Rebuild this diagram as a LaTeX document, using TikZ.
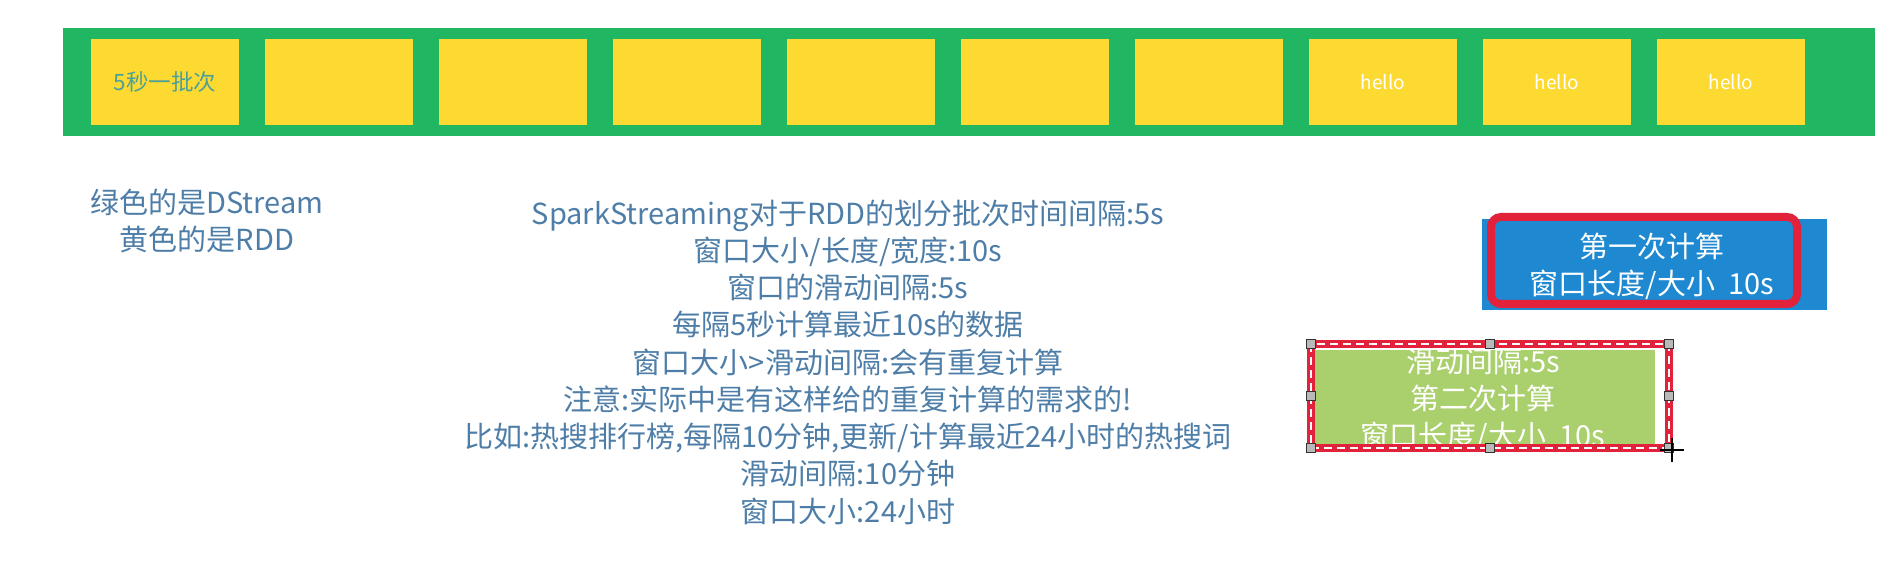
\documentclass[tikz,border=0pt]{standalone}
\usepackage{fontspec}
\setmainfont{Noto Sans CJK SC}
\usepackage{xcolor}
\usepackage{tikz}
\usetikzlibrary{positioning}
\definecolor{dsgreen}{RGB}{32,182,98}
\definecolor{rddyellow}{RGB}{252,218,50}
\definecolor{notetxt}{RGB}{78,126,168}
\definecolor{batchtxt}{RGB}{78,160,150}
\definecolor{winblue}{RGB}{30,136,208}
\definecolor{winred}{RGB}{226,34,58}
\definecolor{wingreen}{RGB}{170,208,110}
\tikzset{
  dstream/.style ={fill=dsgreen, minimum width=181.2mm, minimum height=10.8mm, inner sep=0pt},
  rdd/.style     ={fill=rddyellow, minimum width=14.8mm, minimum height=8.6mm, inner sep=0pt},
  note/.style    ={text=notetxt, align=center, inner sep=0pt, font=\fontsize{8.25}{10.6}\selectfont},
  wtxt/.style    ={text=white, align=center, inner sep=0pt, font=\fontsize{8.25}{10.6}\selectfont},
  redframe/.style={draw=winred, line width=0.8mm},
  selframe/.style={draw=white, line width=0.15mm, dash pattern=on 0.8mm off 0.5mm},
  handle/.style  ={draw=gray!40!black, fill=gray!55, minimum size=0.9mm, inner sep=0pt},
}

\begin{document}
\begin{tikzpicture}[x=0.1mm, y=-0.1mm]
  \fill[white] (0,0) rectangle (1904,586);
  % --- DStream: green bar holding 10 RDD batches ---
  \node[dstream] (ds) at (969,82) {};
  \foreach \i in {1,...,10} {\node[rdd] (r\i) at ({165+(\i-1)*174},82) {};}
  \node[text=batchtxt, inner sep=0pt, font=\fontsize{6.4}{7}\selectfont] (b1) at (r1) {5秒一批次};
  \foreach \i in {8,9,10} {\node[text=white, inner sep=0pt, font=\fontsize{5.4}{6}\selectfont] (h\i) at (r\i) {hello};}
  % --- notes ---
  \node[note] (legend) at (207,221) {绿色的是DStream\\黄色的是RDD};
  \node[note] (expl) at (848,362) {SparkStreaming对于RDD的划分批次时间间隔:5s\\
    窗口大小/长度/宽度:10s\\窗口的滑动间隔:5s\\每隔5秒计算最近10s的数据\\
    窗口大小>滑动间隔:会有重复计算\\注意:实际中是有这样给的重复计算的需求的!\\
    比如:热搜排行榜,每隔10分钟,更新/计算最近24小时的热搜词\\
    滑动间隔:10分钟\\窗口大小:24小时};
  % --- first window ---
  \node[fill=winblue, minimum width=34.5mm, minimum height=9.1mm, inner sep=0pt] (w1) at (1654.5,264.5) {};
  \draw[redframe, rounded corners=1mm] (1491,217) rectangle (1797,304);
  \node[wtxt] (w1t) at (1652,266) {第一次计算\\窗口长度/大小\ \ 10s};
  % --- second window (selected) ---
  \node[fill=wingreen, minimum width=34mm, minimum height=9.5mm, inner sep=0pt] (w2) at (1485,397.5) {};
  \node[wtxt] (w2t) at (1483,400) {滑动间隔:5s\\第二次计算\\窗口长度/大小\ \ 10s};
  \draw[redframe] (1311,344) rectangle (1669,448);
  \draw[selframe] (1311,344) rectangle (1669,448);
  \foreach \p/\q [count=\k] in {1311/344,1490/344,1669/344,1311/396,1669/396,1311/448,1490/448,1669/448}
    {\node[handle] (hd\k) at (\p,\q) {};}
  \coordinate (cur) at (1672,450);
  \draw[line width=0.15mm] (cur) ++(-12,0) -- ++(24,0);
  \draw[line width=0.15mm] (cur) ++(0,-12) -- ++(0,24);
\end{tikzpicture}
\end{document}
